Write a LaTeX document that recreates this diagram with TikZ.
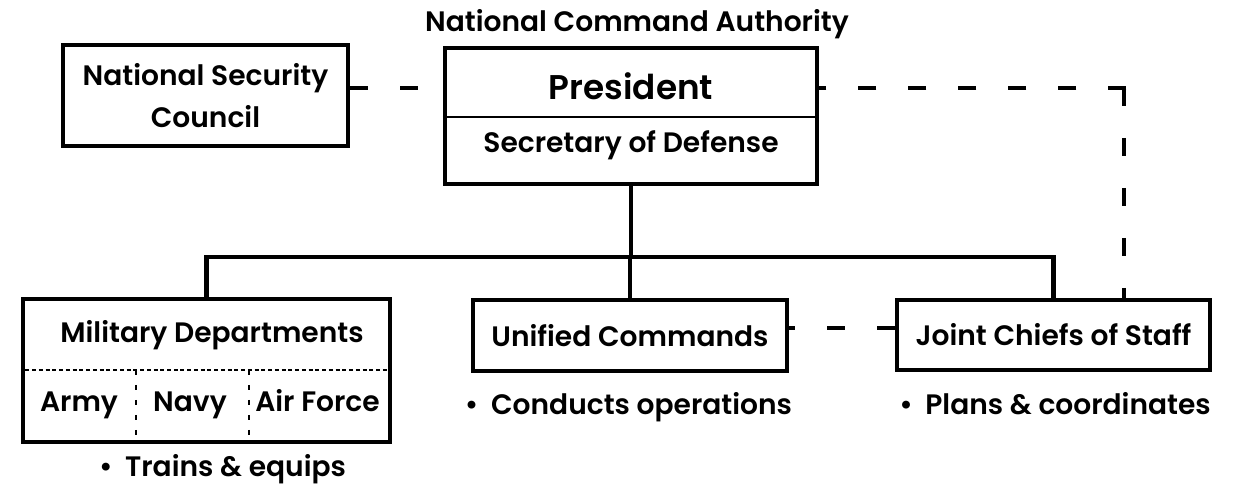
\documentclass[tikz,border=0pt]{standalone}
\usepackage{fontspec}
\setmainfont{Poppins}[BoldFont={Poppins SemiBold}]
\usetikzlibrary{positioning}

\begin{document}
\begin{tikzpicture}[x=0.02cm, y=-0.02cm, line join=miter,
    txt/.style={font=\bfseries\fontsize{16}{24}\selectfont},
    box/.style={draw, line width=0.09cm, inner sep=0pt, align=center, txt},
    lbl/.style={anchor=base, inner sep=0pt, txt},
    link/.style={line width=0.09cm},
    dashlink/.style={line width=0.09cm, dash pattern=on 0.36cm off 0.64cm},
    sublink/.style={line width=0.025cm, dash pattern=on 0.08cm off 0.055cm},
    cutlink/.style={line width=0.025cm, dash pattern=on 0.1cm off 0.2cm}]
    \useasboundingbox (0,0) rectangle (1238,492);

    % top boxes
    \node[lbl] (nca) at (637,32) {National Command Authority};
    \node[box, minimum width=5.7cm, minimum height=2.02cm] (nsc) at (205.5,95.5) {National Security\\Council};
    \node[box, minimum width=7.44cm, minimum height=2.72cm] (pres) at (631,116) {};
    \coordinate (split) at (0,117);
    \draw[line width=0.045cm] (pres.west |- split) -- (pres.east |- split);
    \node[lbl, font=\bfseries\fontsize{19.5}{24}\selectfont] (president) at (631,100) {President};
    \node[lbl] (secdef) at (631,153) {Secretary of Defense};

    % bottom boxes
    \node[box, minimum width=7.34cm, minimum height=2.86cm] (mil) at (206.5,370.5) {};
    \node[lbl] (miltitle) at (212,343) {Military Departments};
    \coordinate (milsplit) at (0,370);
    \coordinate (cut1) at (136,0);
    \coordinate (cut2) at (249,0);
    \draw[sublink] ([xshift=0.09cm]mil.west |- milsplit) -- ([xshift=-0.09cm]mil.east |- milsplit);
    \draw[cutlink] (cut1 |- milsplit) -- (cut1 |- mil.south);
    \draw[cutlink] (cut2 |- milsplit) -- (cut2 |- mil.south);
    \node[lbl] (army) at (79,412) {Army};
    \node[lbl] (navy) at (190,412) {Navy};
    \node[lbl] (airforce) at (317.5,412) {Air Force};

    \node[box, minimum width=6.28cm, minimum height=1.42cm] (uc) at (630,335.5) {Unified Commands};
    \node[box, minimum width=6.26cm, minimum height=1.4cm] (jcs) at (1053.5,335) {Joint Chiefs of Staff};

    % notes
    \node[lbl] (milnote) at (222.5,477) {\textbullet\hspace{0.45em}Trains \& equips};
    \node[lbl] (ucnote) at (628.5,415) {\textbullet\hspace{0.45em}Conducts operations};
    \node[lbl] (jcsnote) at (1055,415) {\textbullet\hspace{0.45em}Plans \& coordinates};

    % command lines
    \coordinate (bus) at (0,257);
    \draw[link] (pres.south) -- (pres.south |- bus);
    \draw[link] (mil.north) |- (jcs.north |- bus) -- (jcs.north);
    \draw[link] (uc.north) -- (uc.north |- bus);

    % coordination lines
    \coordinate (nscline) at (0,88);
    \coordinate (corner) at (1124,88);
    \coordinate (ucline) at (0,328);
    \draw[dashlink] (nsc.east |- nscline) -- (pres.west |- nscline);
    \draw[dashlink] ([xshift=0.045cm]corner) -- (pres.east |- corner);
    \draw[dashlink] (corner) -- (corner |- jcs.north);
    \draw[dashlink] (jcs.west |- ucline) -- (uc.east |- ucline);
\end{tikzpicture}
\end{document}
